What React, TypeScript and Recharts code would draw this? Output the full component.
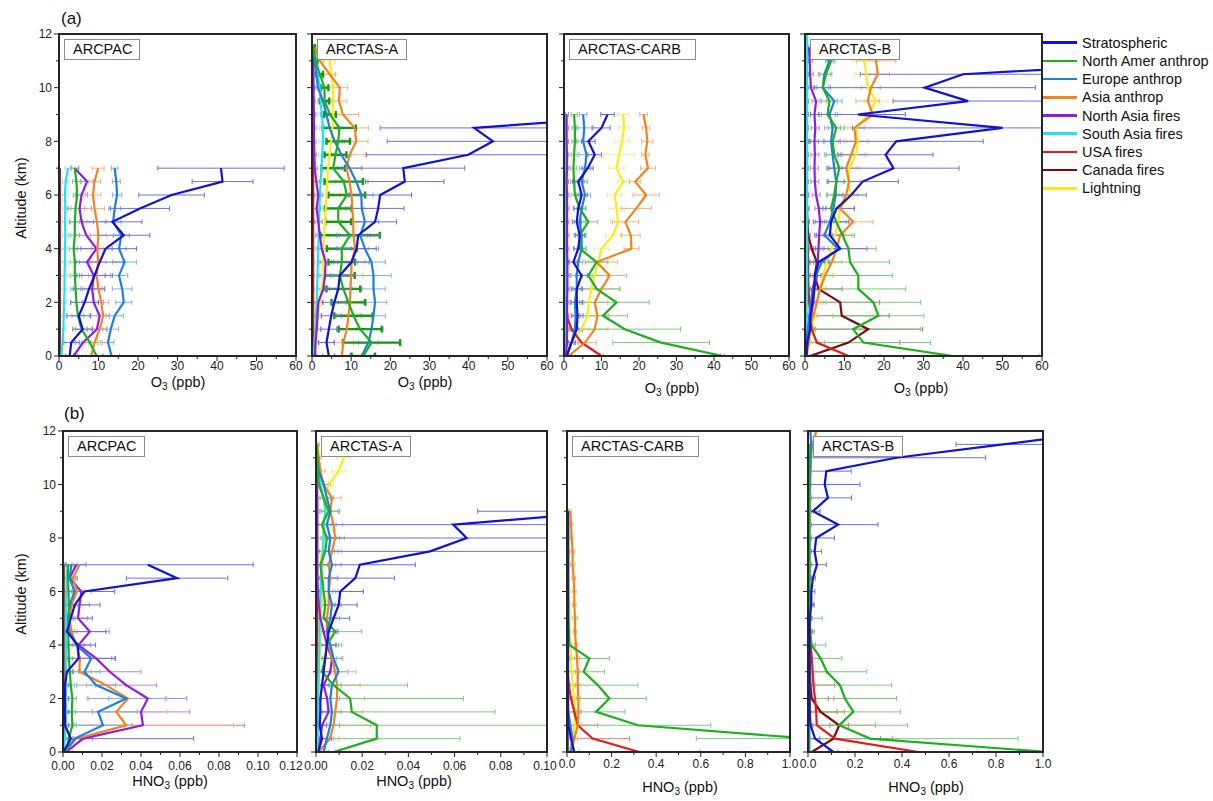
import React from 'react';
import { ScatterChart, Scatter, XAxis, YAxis, ErrorBar } from 'recharts';

const FONT = '"Liberation Sans", Arial, Helvetica, sans-serif';

type Vals = (number | null)[];
type Group = Record<string, Vals>;

// altitude levels (km) of each campaign
const altArcpac = [0, 0.5, 1, 1.5, 2, 2.5, 3, 3.5, 4, 4.5, 5, 5.5, 6, 6.5, 7];
const altArctasA = [0, 0.5, 1, 1.5, 2, 2.5, 3, 3.5, 4, 4.5, 5, 5.5, 6, 6.5, 7, 7.5, 8, 8.5, 9, 9.5, 10, 10.5, 11, 11.5];
const altCarb = [0, 0.5, 1, 1.5, 2, 2.5, 3, 3.5, 4, 4.5, 5, 5.5, 6, 6.5, 7, 7.5, 8, 8.5, 9];
const altArctasB = [0, 0.5, 1, 1.5, 2, 2.5, 3, 3.5, 4, 4.5, 5, 5.5, 6, 6.5, 7, 7.5, 8, 8.5, 9, 9.5, 10, 10.5, 11, 11.5, 12];

// tick values
const altTicks = [0, 1, 2, 3, 4, 5, 6, 7, 8, 9, 10, 11, 12];
const o3Ticks = [0, 5, 10, 15, 20, 25, 30, 35, 40, 45, 50, 55, 60];
const hno3TicksArcpac = [0, 0.01, 0.02, 0.03, 0.04, 0.05, 0.06, 0.07, 0.08, 0.09, 0.1, 0.11, 0.12];
const hno3TicksArctasA = [0, 0.01, 0.02, 0.03, 0.04, 0.05, 0.06, 0.07, 0.08, 0.09, 0.1];
const hno3TicksWide = [0, 0.1, 0.2, 0.3, 0.4, 0.5, 0.6, 0.7, 0.8, 0.9, 1.0];

// ---- O3 (ppb) ----
const o3Arcpac: Group = {
  strat: [2.7, 3.1, 6.0, 5.0, 6.5, 7.6, 9.0, 10.3, 11.8, 16.4, 13.5, 20.5, 28.5, 41.4, 41.0],
  naAnth: [9.5, 7.8, 5.7, 4.8, 4.4, 4.2, 4.0, 4.0, 3.7, 4.0, 4.0, 4.2, 4.6, 4.4, 4.0],
  euAnth: [13.3, 12.4, 13.1, 14.1, 16.4, 16.0, 15.2, 16.6, 15.2, 15.8, 13.7, 14.1, 14.7, 14.5, 14.1],
  asAnth: [8.2, 9.0, 10.3, 11.2, 10.7, 10.0, 9.5, 9.9, 9.7, 10.0, 9.6, 9.0, 8.6, 9.0, 9.9],
  naFire: [3.7, 6.1, 9.6, 10.3, 8.8, 8.4, 8.8, 7.1, 9.5, 6.9, 5.7, 5.2, 5.7, 7.1, 4.0],
  saFire: [0.6, 0.9, 1.1, 1.2, 1.3, 1.4, 1.4, 1.5, 1.5, 1.6, 1.5, 1.6, 1.5, 1.7, 2.3],
  usFire: [0.2, 0.2, 0.1, 0.1, 0.1, 0.1, 0.1, 0.1, 0.1, 0.1, 0.1, 0.1, 0.1, 0.1, 0.1],
  caFire: [0.2, 0.2, 0.2, 0.2, 0.2, 0.2, 0.2, 0.2, 0.2, 0.2, 0.2, 0.2, 0.2, 0.2, 0.2],
};
const o3ArcpacErr: Group = {
  strat: [1.0, 2.0, 2.5, 3.0, 3.5, 4.0, 4.5, 6.0, 7.8, 6.6, 7.5, 7.5, 8.3, 7.7, 16.0],
  naAnth: [1.5, 2.0, 1.5, 1.5, 1.5, 1.2, 1.2, 1.2, 1.0, 1.2, 1.2, 1.2, 1.0, 1.0, 1.0],
  euAnth: [2.0, 1.5, 2.0, 2.2, 2.0, 2.5, 2.2, 3.0, 1.8, 2.0, 2.0, 1.5, 1.2, 1.0, 0.8],
  asAnth: [1.5, 1.5, 2.0, 1.5, 1.8, 1.5, 2.0, 2.0, 1.5, 2.0, 2.5, 2.5, 2.0, 1.5, 1.5],
  naFire: [1.0, 2.0, 2.5, 2.5, 2.5, 2.5, 3.0, 3.0, 4.0, 3.0, 3.0, 3.0, 1.5, 1.5, 1.0],
  saFire: [0.5, 0.6, 0.6, 0.7, 0.7, 0.8, 0.8, 0.8, 0.8, 0.8, 0.8, 0.8, 0.8, 0.8, 0.8],
};

const o3ArctasA: Group = {
  strat: [4.3, 3.7, 4.3, 4.9, 5.7, 6.7, 7.1, 10.1, 11.4, 11.8, 16.1, 16.9, 17.4, 23.7, 23.3, 39.9, 46.2, 41.4, 88.0],
  naAnth: [13.1, 15.2, 12.3, 10.6, 9.3, 8.0, 7.1, 7.6, 7.6, 9.7, 6.7, 6.7, 8.9, 8.1, 5.4, 6.0, 6.7, 7.0, 4.6, 3.2, 3.2, 2.0, 0.9, 0.4],
  euAnth: [12.7, 14.4, 15.2, 15.7, 16.1, 15.7, 15.7, 15.2, 13.5, 12.3, 13.5, 12.7, 12.6, 11.3, 9.6, 7.5, 5.8, 4.5, 3.7, 2.8, 1.5, 1.1, 0.7, 0.3],
  asAnth: [7.6, 8.0, 8.9, 9.3, 9.7, 9.8, 10.0, 10.1, 11.0, 10.6, 10.5, 10.3, 10.1, 9.6, 8.8, 9.6, 11.3, 10.9, 7.9, 6.9, 7.1, 4.5, 2.0, 0.7],
  naFire: [0.8, 0.9, 1.2, 1.4, 1.6, 2.9, 3.3, 3.5, 2.5, 2.0, 1.6, 1.2, 1.6, 1.1, 0.7, 0.6, 0.5, 0.5, 0.5, 0.4, 0.4, 0.3, 0.3, 0.3],
  saFire: [0.3, 0.6, 0.9, 1.0, 1.2, 1.3, 1.4, 1.5, 1.6, 1.7, 1.8, 1.9, 2.0, 2.2, 2.4, 2.6, 2.8, 2.8, 2.5, 2.2, 2.0, 1.5, 1.0, 0.5],
  usFire: [0.3, 0.3, 0.3, 0.3, 0.3, 0.3, 0.3, 0.3, 0.3, 0.3, 0.3, 0.3, 0.3, 0.3, 0.3, 0.3, 0.3, 0.3, 0.3, 0.3, 0.3, 0.3, 0.3, 0.3],
  light: [0.6, 0.9, 1.2, 1.6, 2.0, 2.4, 2.9, 2.9, 2.9, 3.1, 3.3, 3.5, 3.7, 3.9, 4.1, 4.5, 4.9, 5.2, 5.4, 5.4, 5.4, 4.9, 4.5, 4.1],
};
const o3ArctasAErr: Group = {
  strat: [1.5, 2.0, 2.0, 2.5, 3.0, 3.5, 4.0, 4.5, 5.0, 5.4, 5.5, 6.6, 8.0, 10.0, 15.7, 26.0, 27.0, 24.0, 20.0],
  naAnth: [3.0, 7.3, 5.5, 4.9, 4.3, 4.3, 3.8, 3.4, 3.8, 7.6, 3.3, 3.4, 4.7, 4.9, 3.0, 2.8, 3.0, 4.2, 1.5, 1.2, 1.0, 0.8, 0.5, 0.3],
  euAnth: [3.0, 2.5, 3.0, 3.0, 3.0, 3.0, 4.5, 3.5, 3.5, 2.5, 3.5, 4.0, 3.0, 3.0, 3.0, 2.5, 2.0, 2.0, 1.5, 1.0, 1.0, 0.8, 0.5, 0.3],
  asAnth: [2.0, 2.5, 2.5, 3.0, 3.0, 3.0, 3.0, 3.5, 3.5, 3.5, 3.0, 3.0, 3.0, 3.5, 4.0, 4.0, 3.0, 3.5, 4.0, 2.0, 2.0, 1.5, 1.0, 0.5],
  naFire: [0.5, 0.8, 1.0, 1.0, 1.2, 1.5, 1.5, 1.5, 1.2, 1.0, 1.0, 1.0, 1.0, 0.8, 0.6, 0.5, 0.5, 0.5, 0.5, 0.4, 0.4, 0.3, 0.3, 0.3],
  saFire: [0.3, 0.5, 0.6, 0.6, 0.7, 0.7, 0.8, 0.8, 0.8, 0.8, 0.9, 0.9, 1.0, 1.0, 1.0, 1.0, 1.0, 1.0, 1.0, 0.8, 0.8, 0.6, 0.5, 0.3],
  light: [0.5, 0.6, 0.8, 1.0, 1.0, 1.2, 1.2, 1.2, 1.2, 1.5, 1.5, 1.5, 1.5, 1.5, 1.5, 1.5, 1.5, 1.5, 1.5, 1.5, 1.5, 1.5, 1.5, 1.0],
};

const o3Carb: Group = {
  strat: [0.7, 2.0, 3.4, 3.6, 3.4, 3.4, 4.7, 2.5, 3.8, 4.2, 3.4, 3.8, 4.7, 3.8, 6.3, 8.2, 6.5, 10.0, 11.6],
  naAnth: [42.3, 25.9, 16.2, 10.4, 14.0, 8.7, 6.5, 8.7, 4.2, 4.2, 6.5, 4.2, 2.9, 2.7, 2.5, 2.7, 2.9, 2.9, 2.7],
  euAnth: [0.7, 2.0, 2.9, 3.1, 2.9, 3.4, 3.4, 3.8, 4.7, 4.7, 4.2, 4.7, 5.6, 4.7, 5.6, 6.0, 5.1, 5.4, 5.1],
  asAnth: [1.2, 5.6, 8.2, 8.9, 8.2, 10.0, 12.2, 8.7, 18.0, 17.8, 16.4, 19.3, 21.9, 19.0, 22.4, 21.7, 22.2, 21.9, 21.2],
  naFire: [0.5, 0.8, 0.8, 0.8, 0.8, 0.9, 0.9, 0.9, 0.8, 0.8, 0.8, 0.8, 0.8, 0.7, 0.8, 0.8, 0.7, 0.7, 0.7],
  saFire: [0.3, 0.4, 0.5, 0.5, 0.5, 0.5, 0.5, 0.5, 0.5, 0.5, 0.5, 0.5, 0.5, 0.5, 0.5, 0.5, 0.5, 0.5, 0.5],
  usFire: [10.0, 4.7, 2.0, 0.7, 0.3, 0.2, 0.2, 0.2, 0.2, 0.2, 0.2, 0.2, 0.2, 0.2, 0.2, 0.2, 0.2, 0.2, 0.2],
  caFire: [0.1, 0.1, 0.1, 0.1, 0.1, 0.1, 0.1, 0.1, 0.1, 0.1, 0.1, 0.1, 0.1, 0.1, 0.1, 0.1, 0.1, 0.1, 0.1],
  light: [0.7, 2.0, 4.7, 6.3, 6.6, 7.3, 8.2, 9.1, 10.0, 13.1, 14.4, 14.0, 13.5, 15.8, 14.0, 14.7, 15.5, 16.0, 15.8],
};
const o3CarbErr: Group = {
  strat: [0.5, 1.0, 1.5, 1.5, 1.5, 1.5, 1.5, 1.2, 1.2, 1.2, 1.2, 1.2, 1.5, 1.5, 1.5, 1.8, 1.8, 2.3, 1.8],
  naAnth: [0.5, 12.9, 14.9, 6.5, 8.7, 6.0, 5.0, 3.0, 1.5, 1.5, 2.5, 1.5, 1.0, 1.0, 0.8, 0.8, 0.8, 0.8, 0.8],
  euAnth: [0.5, 1.0, 1.0, 1.2, 1.2, 1.2, 1.5, 1.2, 1.2, 1.2, 1.5, 1.2, 1.5, 1.5, 1.5, 2.0, 1.8, 2.0, 1.0],
  asAnth: [1.0, 3.0, 3.5, 3.0, 3.5, 5.0, 4.5, 5.5, 2.0, 2.5, 3.5, 4.0, 3.5, 1.5, 2.0, 1.0, 1.5, 1.0, 1.0],
  naFire: [0.3, 0.5, 0.5, 0.5, 0.5, 0.5, 0.5, 0.5, 0.5, 0.5, 0.5, 0.5, 0.5, 0.5, 0.5, 0.5, 0.5, 0.5, 0.5],
  usFire: [0.5, 1.0, 1.0, 0.5, 0.3, 0.2, 0.2, 0.2, 0.2, 0.2, 0.2, 0.2, 0.2, 0.2, 0.2, 0.2, 0.2, 0.2, 0.2],
  light: [0.5, 1.5, 2.0, 2.0, 2.0, 2.5, 2.5, 2.5, 2.0, 2.0, 2.0, 2.0, 2.0, 1.5, 2.0, 4.0, 2.0, 1.5, 1.5],
};

const o3ArctasB: Group = {
  strat: [0.4, 0.5, 1.3, 1.4, 1.9, 2.3, 2.5, 3.4, 8.9, 6.3, 6.6, 8.0, 11.7, 14.6, 22.4, 20.4, 23.1, 50.0, 13.4, 41.3, 30.3, 40.0, 100.0],
  naAnth: [37.4, 14.8, 12.2, 18.6, 17.3, 13.5, 13.5, 11.4, 11.0, 9.5, 7.9, 6.6, 7.4, 7.9, 8.7, 7.4, 7.0, 7.9, 5.7, 6.2, 4.5, 5.3, 6.6, 4.0],
  euAnth: [0.3, 0.3, 0.7, 1.1, 1.5, 1.9, 2.8, 4.2, 8.4, 4.9, 6.3, 7.2, 7.7, 7.9, 7.4, 7.0, 6.6, 7.0, 6.2, 7.4, 4.5, 4.9, 6.2, 2.4],
  asAnth: [0.3, 0.5, 0.8, 2.1, 3.0, 3.8, 5.1, 6.8, 8.0, 8.9, 12.2, 8.9, 10.4, 11.2, 10.4, 11.7, 12.9, 12.5, 17.2, 15.9, 16.7, 18.4, 18.0, 17.8],
  naFire: [0.3, 0.8, 1.2, 1.5, 2.1, 2.4, 3.0, 3.2, 3.4, 3.6, 3.8, 3.5, 2.8, 2.5, 2.4, 2.5, 2.4, 2.6, 2.4, 2.8, 1.5, 1.3, 1.2, 1.0],
  saFire: [0.2, 0.3, 0.3, 0.4, 0.4, 0.5, 0.5, 0.5, 0.5, 0.5, 0.5, 0.5, 0.5, 0.5, 0.5, 0.5, 0.5, 0.5, 0.5, 0.5, 0.5, 0.5, 0.5, 0.5, 0.5],
  usFire: [11.0, 3.0, 1.7, 1.3, 1.1, 0.9, 0.8, 0.8, 0.7, 0.6, 0.5, 0.5, 0.5, 0.4, 0.4, 0.4, 0.4, 0.4, 0.4, 0.4, 0.3, 0.3, 0.3, 0.3],
  caFire: [1.3, 11.0, 16.0, 9.3, 8.9, 3.4, 2.5, 3.0, 1.7, 0.8, 0.6, 0.5, 0.4, 0.4, 0.4, 0.3, 0.3, 0.3, 0.3, 0.3, 0.3, 0.3, 0.3, 0.3],
  light: [0.6, 1.1, 1.7, 2.3, 3.0, 3.8, 4.6, 5.5, 6.8, 7.6, 8.4, 8.9, 11.7, 10.8, 11.2, 12.9, 13.4, 12.9, 15.9, 18.0, 15.9, 15.5, 15.0, 9.6],
};
const o3ArctasBErr: Group = {
  strat: [0.3, 0.5, 0.5, 0.8, 1.0, 1.5, 2.0, 2.5, 6.8, 3.5, 4.5, 4.5, 3.8, 9.0, 16.6, 12.0, 22.0, 38.0, 12.0, 19.0, 28.0, 26.0, 30.0],
  naAnth: [22.0, 17.0, 17.0, 11.5, 12.0, 12.0, 8.6, 10.0, 7.0, 3.0, 2.5, 2.0, 2.0, 2.0, 2.5, 2.0, 2.0, 2.0, 2.0, 2.0, 2.0, 1.5, 1.0, 1.0],
  euAnth: [0.3, 0.3, 0.5, 0.8, 1.0, 1.2, 1.5, 2.0, 2.5, 2.0, 2.0, 2.0, 2.0, 2.0, 2.0, 2.0, 2.0, 2.0, 2.0, 2.0, 1.5, 1.5, 1.0, 1.0],
  asAnth: [0.3, 0.5, 1.0, 1.0, 1.5, 1.5, 2.0, 2.5, 3.0, 3.0, 5.0, 3.5, 3.0, 3.0, 3.0, 3.5, 3.0, 2.5, 3.0, 3.0, 2.5, 3.0, 5.0, 5.0],
  naFire: [0.3, 0.5, 0.8, 0.8, 1.0, 1.0, 1.0, 1.0, 1.2, 1.2, 1.2, 1.0, 1.0, 1.0, 1.0, 1.0, 1.0, 1.0, 1.0, 1.0, 0.8, 0.8, 0.8, 0.6],
  usFire: [8.0, 2.0, 1.0, 0.8, 0.5, 0.5, 0.5, 0.5, 0.5, 0.5, 0.5, 0.5, 0.5, 0.5, 0.5, 0.5, 0.5, 0.5, 0.5, 0.5, 0.5, 0.5, 0.5, 0.5],
  caFire: [1.0, 13.0, 13.8, 12.0, 10.0, 6.0, 2.0, 2.0, 1.0, 0.5, 0.5, 0.5, 0.5, 0.5, 0.5, 0.5, 0.5, 0.5, 0.5, 0.5, 0.5, 0.5, 0.5, 0.5],
  light: [0.5, 0.5, 0.8, 1.0, 1.0, 1.5, 2.0, 2.0, 2.0, 2.5, 2.5, 2.5, 3.0, 3.0, 3.0, 3.0, 3.0, 2.0, 7.0, 3.0, 3.0, 3.0, 3.0, 2.0],
};

// ---- HNO3 (ppb) ----
const hno3Arcpac: Group = {
  strat: [0.0002, 0.004, 0.001, 0.001, 0.001, 0.001, 0.002, 0.008, 0.0077, 0.002, 0.004, 0.006, 0.011, 0.0585, 0.0435],
  naAnth: [0.002, 0.003, 0.0048, 0.0045, 0.0048, 0.004, 0.0035, 0.003, 0.0028, 0.0028, 0.003, 0.003, 0.0028, 0.0026, 0.0026],
  euAnth: [0.001, 0.006, 0.0205, 0.018, 0.0324, 0.017, 0.011, 0.0145, 0.0068, 0.0031, 0.0026, 0.0034, 0.006, 0.0034, 0.0043],
  asAnth: [0.001, 0.0068, 0.0324, 0.0273, 0.0333, 0.022, 0.0085, 0.0085, 0.0068, 0.0043, 0.0034, 0.0043, 0.0072, 0.005, 0.0085],
  naFire: [0.0017, 0.0102, 0.041, 0.04, 0.0435, 0.0324, 0.024, 0.017, 0.008, 0.0137, 0.0077, 0.0085, 0.0094, 0.0034, 0.0068],
  saFire: [0.0005, 0.001, 0.0015, 0.0015, 0.0015, 0.0015, 0.0015, 0.0015, 0.0015, 0.0015, 0.0015, 0.0015, 0.0017, 0.0018, 0.002],
  usFire: [0.0003, 0.0003, 0.0003, 0.0003, 0.0003, 0.0003, 0.0003, 0.0003, 0.0003, 0.0003, 0.0003, 0.0003, 0.0003, 0.0003, 0.0003],
  caFire: [0.0002, 0.0002, 0.0002, 0.0002, 0.0002, 0.0002, 0.0002, 0.0002, 0.0002, 0.0002, 0.0002, 0.0002, 0.0002, 0.0002, 0.0002],
};
const hno3ArcpacErr: Group = {
  strat: [null, 0.063, 0.002, 0.002, 0.002, 0.002, 0.003, 0.019, 0.009, 0.02, 0.011, 0.013, 0.0155, 0.026, 0.054],
  naAnth: [0.003, 0.002, 0.002, 0.002, 0.002, 0.002, 0.002, 0.002, 0.002, 0.002, 0.002, 0.002, 0.002, 0.002, 0.002],
  euAnth: [0.001, 0.004, 0.015, 0.02, 0.02, 0.01, 0.008, 0.012, 0.004, 0.003, 0.003, 0.003, 0.003, 0.003, 0.003],
  asAnth: [0.001, 0.004, 0.055, 0.026, 0.02, 0.01, 0.006, 0.005, 0.004, 0.003, 0.003, 0.003, 0.003, 0.002, 0.003],
  naFire: [0.001, 0.005, 0.052, 0.025, 0.02, 0.0156, 0.016, 0.008, 0.006, 0.01, 0.005, 0.005, 0.005, 0.004, 0.005],
};

const hno3ArctasA: Group = {
  strat: [0.001, 0.0026, 0.0016, 0.0019, 0.0019, 0.0026, 0.0033, 0.004, 0.0047, 0.0055, 0.0076, 0.0098, 0.0105, 0.017, 0.019, 0.0494, 0.0652, 0.0594, 0.13],
  naAnth: [0.0076, 0.0263, 0.0263, 0.0155, 0.0148, 0.0076, 0.0026, 0.004, 0.0047, 0.0083, 0.0033, 0.004, 0.0033, 0.0026, 0.0019, 0.004, 0.0047, 0.0026, 0.0055, 0.0033, 0.0012, 0.0008, 0.0005, 0.0003],
  euAnth: [0.0033, 0.0047, 0.0062, 0.0069, 0.0062, 0.0069, 0.0098, 0.0076, 0.0062, 0.0047, 0.0062, 0.0069, 0.0055, 0.0055, 0.0069, 0.0055, 0.0062, 0.0047, 0.0062, 0.0047, 0.0033, 0.0012, 0.0005],
  asAnth: [0.0012, 0.006, 0.0076, 0.0083, 0.0091, 0.0091, 0.0083, 0.0069, 0.0055, 0.0047, 0.0047, 0.0055, 0.0055, 0.0062, 0.0055, 0.0069, 0.0083, 0.0076, 0.0062, 0.0069, 0.0033, 0.0019, 0.0012, 0.0005],
  naFire: [0.0012, 0.0019, 0.0026, 0.0055, 0.0048, 0.0033, 0.0062, 0.0069, 0.0047, 0.0033, 0.0019, 0.0012, 0.0008, 0.0006, 0.0005, 0.0005, 0.0005, 0.0005, 0.0005, 0.0005, 0.0004, 0.0003, 0.0003, 0.0003],
  saFire: [0.0006, 0.0008, 0.001, 0.001, 0.001, 0.001, 0.0012, 0.0012, 0.0015, 0.0015, 0.0015, 0.0018, 0.002, 0.0022, 0.0025, 0.003, 0.0033, 0.0033, 0.004, 0.0033, 0.0019, 0.0008, 0.0005, 0.0003],
  usFire: [0.0005, 0.0005, 0.0005, 0.0005, 0.0005, 0.0005, 0.0005, 0.0005, 0.0005, 0.0005, 0.0005, 0.0005, 0.0005, 0.0005, 0.0005, 0.0005, 0.0005, 0.0005, 0.0005, 0.0005, 0.0005, 0.0005, 0.0005, 0.0005],
  light: [0.0004, 0.0005, 0.0006, 0.0008, 0.001, 0.0012, 0.0014, 0.0016, 0.0018, 0.002, 0.0022, 0.0025, 0.0028, 0.003, 0.0019, 0.0026, 0.0033, 0.0026, 0.0047, 0.004, 0.0055, 0.0098, 0.012],
};
const hno3ArctasAErr: Group = {
  strat: [0.001, 0.004, 0.003, 0.003, 0.003, 0.003, 0.003, 0.003, 0.004, 0.004, 0.007, 0.008, 0.01, 0.017, 0.024, 0.06, 0.06, 0.06, 0.06],
  naAnth: [0.007, 0.036, 0.08, 0.062, 0.049, 0.032, 0.006, 0.005, 0.005, 0.0115, 0.004, 0.004, 0.004, 0.003, 0.003, 0.004, 0.004, 0.004, 0.004, 0.003, 0.002, 0.001, 0.001, 0.0005],
  euAnth: [0.002, 0.003, 0.004, 0.004, 0.004, 0.004, 0.004, 0.004, 0.005, 0.004, 0.004, 0.004, 0.004, 0.004, 0.004, 0.004, 0.004, 0.004, 0.004, 0.003, 0.002, 0.001, 0.0005],
  asAnth: [0.001, 0.004, 0.016, 0.012, 0.012, 0.01, 0.009, 0.004, 0.003, 0.004, 0.004, 0.003, 0.003, 0.003, 0.003, 0.004, 0.004, 0.004, 0.004, 0.004, 0.003, 0.002, 0.001, 0.001],
  light: [0.0003, 0.0003, 0.0004, 0.0005, 0.0006, 0.0007, 0.0008, 0.0008, 0.0009, 0.001, 0.001, 0.001, 0.0012, 0.0012, 0.001, 0.0012, 0.0015, 0.0012, 0.002, 0.002, 0.002, 0.003, 0.003],
};

const hno3Carb: Group = {
  strat: [0.033, 0.018, 0.006, 0.004, 0.004, 0.004, 0.004, 0.004, 0.004, 0.004, 0.004, 0.004, 0.004, 0.004, 0.004, 0.004, 0.004, 0.004, 0.004],
  naAnth: [1.5, 1.08, 0.318, 0.13, 0.19, 0.138, 0.075, 0.1, 0.01, 0.008, 0.006, 0.006, 0.005, 0.005, 0.005, 0.005, 0.005, 0.005, 0.005],
  euAnth: [0.018, 0.025, 0.015, 0.006, 0.005, 0.005, 0.005, 0.005, 0.005, 0.005, 0.005, 0.005, 0.005, 0.005, 0.005, 0.005, 0.005, 0.005, 0.005],
  asAnth: [0.018, 0.033, 0.048, 0.051, 0.051, 0.048, 0.048, 0.045, 0.04, 0.036, 0.036, 0.033, 0.033, 0.03, 0.025, 0.025, 0.021, 0.018, 0.015],
  naFire: [0.003, 0.003, 0.003, 0.003, 0.003, 0.003, 0.003, 0.003, 0.003, 0.003, 0.003, 0.003, 0.003, 0.003, 0.003, 0.003, 0.003, 0.003, 0.003],
  saFire: [0.003, 0.003, 0.003, 0.003, 0.003, 0.003, 0.003, 0.003, 0.003, 0.003, 0.003, 0.003, 0.003, 0.003, 0.003, 0.003, 0.003, 0.003, 0.003],
  usFire: [0.325, 0.115, 0.048, 0.033, 0.018, 0.008, 0.003, 0.002, 0.002, 0.002, 0.002, 0.002, 0.002, 0.002, 0.002, 0.002, 0.002, 0.002, 0.002],
  caFire: [0.001, 0.001, 0.001, 0.001, 0.001, 0.001, 0.001, 0.001, 0.001, 0.001, 0.001, 0.001, 0.001, 0.001, 0.001, 0.001, 0.001, 0.001, 0.001],
  light: [0.01, 0.025, 0.036, 0.033, 0.033, 0.025, 0.021, 0.018, 0.015, 0.012, 0.012, 0.01, 0.01, 0.009, 0.008, 0.008, 0.007, 0.006, 0.006],
};
const hno3CarbErr: Group = {
  naAnth: [0.5, 0.5, 0.327, 0.13, 0.165, 0.18, 0.093, 0.09, 0.01, 0.005, 0.004, 0.004, 0.004, 0.004, 0.004, 0.004, 0.004, 0.004, 0.004],
  usFire: [0.27, 0.165, 0.09, 0.03, 0.01, 0.005, 0.002, 0.002, 0.002, 0.002, 0.002, 0.002, 0.002, 0.002, 0.002, 0.002, 0.002, 0.002, 0.002],
  asAnth: [0.01, 0.015, 0.015, 0.01, 0.01, 0.01, 0.01, 0.01, 0.008, 0.008, 0.01, 0.008, 0.008, 0.008, 0.01, 0.008, 0.006, 0.008, 0.004],
  light: [0.005, 0.01, 0.01, 0.01, 0.01, 0.008, 0.008, 0.006, 0.006, 0.005, 0.005, 0.005, 0.005, 0.004, 0.004, 0.004, 0.004, 0.003, 0.003],
};

const hno3ArctasB: Group = {
  strat: [0.108, 0.03, 0.011, 0.007, 0.007, 0.007, 0.007, 0.007, 0.007, 0.007, 0.007, 0.014, 0.014, 0.021, 0.038, 0.028, 0.035, 0.128, 0.021, 0.085, 0.071, 0.078, 0.376, 0.83, 1.29],
  naAnth: [1.02, 0.264, 0.133, 0.193, 0.157, 0.136, 0.08, 0.054, 0.016, 0.007, 0.01, 0.008, 0.006, 0.006, 0.005, 0.005, 0.005, 0.005, 0.005, 0.005, 0.005, 0.005, 0.005, 0.005],
  euAnth: [0.003, 0.003, 0.004, 0.004, 0.004, 0.005, 0.005, 0.005, 0.005, 0.005, 0.005, 0.005, 0.005, 0.005, 0.005, 0.005, 0.005, 0.005, 0.005, 0.006, 0.008, 0.01, 0.012, 0.014, 0.01],
  asAnth: [0.003, 0.004, 0.005, 0.005, 0.005, 0.005, 0.005, 0.005, 0.005, 0.005, 0.005, 0.005, 0.005, 0.005, 0.005, 0.005, 0.005, 0.005, 0.005, 0.005, 0.006, 0.006, 0.007, 0.02, 0.035],
  naFire: [0.004, 0.004, 0.004, 0.004, 0.004, 0.004, 0.004, 0.004, 0.004, 0.004, 0.004, 0.004, 0.004, 0.004, 0.004, 0.004, 0.004, 0.004, 0.004, 0.004, 0.004, 0.004, 0.004, 0.004],
  saFire: [0.006, 0.006, 0.006, 0.006, 0.006, 0.006, 0.006, 0.006, 0.006, 0.006, 0.006, 0.006, 0.006, 0.006, 0.006, 0.006, 0.006, 0.006, 0.006, 0.006, 0.006, 0.006, 0.006, 0.008],
  usFire: [0.47, 0.115, 0.037, 0.035, 0.03, 0.023, 0.02, 0.016, 0.012, 0.008, 0.005, 0.004, 0.003, 0.003, 0.003, 0.003, 0.003, 0.003, 0.003, 0.003, 0.003, 0.003, 0.003, 0.003],
  caFire: [0.016, 0.108, 0.133, 0.054, 0.016, 0.01, 0.008, 0.006, 0.005, 0.004, 0.004, 0.004, 0.004, 0.004, 0.004, 0.004, 0.004, 0.004, 0.004, 0.004, 0.004, 0.004, 0.004, 0.004],
  light: [0.005, 0.006, 0.007, 0.008, 0.008, 0.009, 0.01, 0.01, 0.01, 0.009, 0.008, 0.007, 0.006, 0.005, 0.005, 0.005, 0.005, 0.006, 0.007, 0.008, 0.01, 0.012, 0.015, 0.021, 0.035],
};
const hno3ArctasBErr: Group = {
  strat: [0.02, 0.02, 0.01, 0.005, 0.005, 0.005, 0.005, 0.005, 0.005, 0.01, 0.01, 0.01, 0.015, 0.01, 0.04, 0.03, 0.078, 0.17, 0.03, 0.1, 0.15, 0.106, 0.38, 0.2, 0.2],
  naAnth: [0.3, 0.63, 0.29, 0.2, 0.22, 0.22, 0.17, 0.09, 0.06, 0.02, 0.05, 0.02, 0.01, 0.01, 0.01, 0.01, 0.01, 0.01, 0.01, 0.01, 0.01, 0.01, 0.01, 0.01],
  usFire: [0.3, 0.245, 0.25, 0.12, 0.08, 0.09, 0.06, 0.03, 0.02, 0.01, 0.01, 0.01, 0.01, 0.01, 0.01, 0.01, 0.01, 0.01, 0.01, 0.01, 0.01, 0.01, 0.01, 0.01],
  caFire: [0.01, 0.2, 0.04, 0.07, 0.07, 0.02, 0.01, 0.01, 0.01, 0.01, 0.01, 0.01, 0.01, 0.01, 0.01, 0.01, 0.01, 0.01, 0.01, 0.01, 0.01, 0.01, 0.01, 0.01],
};

const series = [
  { key: 'strat', name: 'Stratospheric', color: '#1212d2', bar: '#6f6fe4' },
  { key: 'naAnth', name: 'North Amer anthrop', color: '#1eae1e', bar: '#7ccb7c' },
  { key: 'euAnth', name: 'Europe anthrop', color: '#1f7fe0', bar: '#7fb1ea' },
  { key: 'asAnth', name: 'Asia anthrop', color: '#f2831f', bar: '#f4b27c' },
  { key: 'naFire', name: 'North Asia fires', color: '#8a1fe2', bar: '#b683ec' },
  { key: 'saFire', name: 'South Asia fires', color: '#22e2f2', bar: '#8eeff7' },
  { key: 'usFire', name: 'USA fires', color: '#e41c1c', bar: '#ed8080' },
  { key: 'caFire', name: 'Canada fires', color: '#7a0c0c', bar: '#ab6a6a' },
  { key: 'light', name: 'Lightning', color: '#f6ee14', bar: '#f2ec8a' },
];
const drawOrder = ['light', 'caFire', 'usFire', 'saFire', 'naFire', 'asAnth', 'euAnth', 'naAnth', 'strat'];

type Panel = {
  title: string; alt: number[]; vals: Group; errs: Group; ticks: number[]; xMax: number;
  step: number; digits: number; x: number; y: number; w: number; h: number; boxW: number;
  showY: boolean; gas: string; tx: number; ty: number; gap: number; lastShift?: number; boldBar?: string;
};

const panels: Panel[] = [
  { title: 'ARCPAC', alt: altArcpac, vals: o3Arcpac, errs: o3ArcpacErr, ticks: o3Ticks, xMax: 60, step: 10, digits: 0, x: 59, y: 34, w: 237, h: 322, boxW: 76, showY: true, gas: 'O', tx: 178, ty: 383, gap: 5 },
  { title: 'ARCTAS-A', alt: altArctasA, vals: o3ArctasA, errs: o3ArctasAErr, ticks: o3Ticks, xMax: 60, step: 10, digits: 0, x: 312, y: 34, w: 235, h: 322, boxW: 90, showY: false, gas: 'O', tx: 425, ty: 383, gap: 5, boldBar: 'naAnth' },
  { title: 'ARCTAS-CARB', alt: altCarb, vals: o3Carb, errs: o3CarbErr, ticks: o3Ticks, xMax: 60, step: 10, digits: 0, x: 564, y: 34, w: 225, h: 322, boxW: 127, showY: false, gas: 'O', tx: 672, ty: 389, gap: 5 },
  { title: 'ARCTAS-B', alt: altArctasB, vals: o3ArctasB, errs: o3ArctasBErr, ticks: o3Ticks, xMax: 60, step: 10, digits: 0, x: 805, y: 34, w: 237, h: 322, boxW: 90, showY: false, gas: 'O', tx: 921, ty: 389, gap: 5 },
  { title: 'ARCPAC', alt: altArcpac, vals: hno3Arcpac, errs: hno3ArcpacErr, ticks: hno3TicksArcpac, xMax: 0.12, step: 0.02, digits: 2, x: 63, y: 431, w: 234, h: 321, boxW: 77, showY: true, gas: 'HNO', tx: 170, ty: 782, gap: 9, lastShift: -6 },
  { title: 'ARCTAS-A', alt: altArctasA, vals: hno3ArctasA, errs: hno3ArctasAErr, ticks: hno3TicksArctasA, xMax: 0.1, step: 0.02, digits: 2, x: 316, y: 431, w: 231, h: 321, boxW: 90, showY: false, gas: 'HNO', tx: 414, ty: 782, gap: 9, lastShift: -2 },
  { title: 'ARCTAS-CARB', alt: altCarb, vals: hno3Carb, errs: hno3CarbErr, ticks: hno3TicksWide, xMax: 1.0, step: 0.2, digits: 1, x: 567, y: 431, w: 223, h: 321, boxW: 127, showY: false, gas: 'HNO', tx: 680, ty: 788, gap: 7 },
  { title: 'ARCTAS-B', alt: altArctasB, vals: hno3ArctasB, errs: hno3ArctasBErr, ticks: hno3TicksWide, xMax: 1.0, step: 0.2, digits: 1, x: 808, y: 431, w: 235, h: 321, boxW: 90, showY: false, gas: 'HNO', tx: 926, ty: 788, gap: 7 },
];

const ML = 40, MT = 10, MR = 16, XH = 26;
const isMajor = (v: number, step: number) => Math.abs(v / step - Math.round(v / step)) < 1e-6;
const NoDot = () => <g />;

const xTick = (p: Panel) => (props: any) => {
  const { x, y, payload } = props;
  const major = isMajor(payload.value, p.step);
  const isLast = Math.abs(payload.value - p.xMax) < 1e-9;
  const lx = isLast && p.lastShift ? x + p.lastShift : x;
  return (
    <g>
      <line x1={x} x2={x} y1={y} y2={y + (major ? 5 : 3)} stroke="#222" />
      {major && (
        <text x={lx} y={y + p.gap} dy="0.71em" textAnchor="middle" fontSize={12} fill="#222" fontFamily={FONT}>
          {Number(payload.value).toFixed(p.digits)}
        </text>
      )}
    </g>
  );
};

const yTick = (showLabel: boolean) => (props: any) => {
  const { x, y, payload } = props;
  const major = payload.value % 2 === 0;
  return (
    <g>
      <line x1={x - (major ? 5 : 3)} x2={x} y1={y} y2={y} stroke="#222" />
      {showLabel && major && (
        <text x={x - 7} y={y} dy="0.35em" textAnchor="end" fontSize={12} fill="#222" fontFamily={FONT}>
          {payload.value}
        </text>
      )}
    </g>
  );
};

// axes only (ticks and labels), drawn outside the plot box
function AxesChart({ p }: { p: Panel }) {
  return (
    <ScatterChart width={ML + p.w + MR} height={MT + p.h + XH} margin={{ top: MT, right: MR, bottom: 0, left: 0 }}>
      <XAxis type="number" dataKey="x" domain={[0, p.xMax]} ticks={p.ticks} interval={0} allowDataOverflow
        height={XH} axisLine={false} tickLine={false} tickSize={0} tickMargin={0} tick={xTick(p)} />
      <YAxis type="number" dataKey="y" domain={[0, 12]} ticks={altTicks} interval={0} allowDataOverflow
        width={ML} axisLine={false} tickLine={false} tickSize={0} tickMargin={0} tick={yTick(p.showY)} />
      <Scatter data={[{ x: 0, y: 0 }]} shape={NoDot} isAnimationActive={false} />
    </ScatterChart>
  );
}

// profiles with error bars; the wrapper clips everything to the plot box
function SeriesChart({ p }: { p: Panel }) {
  return (
    <ScatterChart width={ML + p.w + MR} height={MT + p.h + XH} margin={{ top: MT, right: MR, bottom: 0, left: 0 }}>
      <XAxis type="number" dataKey="x" domain={[0, p.xMax]} allowDataOverflow height={XH} axisLine={false} tickLine={false} tick={false} />
      <YAxis type="number" dataKey="y" domain={[0, 12]} allowDataOverflow width={ML} axisLine={false} tickLine={false} tick={false} />
      {drawOrder.map((k) => {
        const s = series.find((e) => e.key === k)!;
        const vals = p.vals[k];
        if (!vals) return null;
        const errs = p.errs[k];
        const pts = p.alt
          .map((a, i) => ({ y: a, x: vals[i], err: errs ? errs[i] ?? undefined : undefined }))
          .filter((d) => d.x != null);
        const bold = p.boldBar === k;
        return (
          <Scatter key={k} name={s.name} data={pts} fill={s.color} shape={NoDot}
            line={{ stroke: s.color, strokeWidth: 2.2 }} isAnimationActive={false}>
            <ErrorBar dataKey="err" direction="x" width={bold ? 3.5 : 2.5}
              stroke={bold ? '#169616' : s.bar} strokeWidth={bold ? 2.4 : 1} />
          </Scatter>
        );
      })}
    </ScatterChart>
  );
}

export default function App() {
  return (
    <div style={{ position: 'absolute', left: 0, top: 0, width: 1213, height: 801, background: '#fff', fontFamily: FONT, color: '#111' }}>
      {panels.map((p, i) => (
        <React.Fragment key={i}>
          <div style={{ position: 'absolute', left: p.x - ML, top: p.y - MT }}>
            <AxesChart p={p} />
          </div>
          <div style={{ position: 'absolute', left: p.x, top: p.y, width: p.w, height: p.h, overflow: 'hidden' }}>
            <div style={{ position: 'absolute', left: -ML, top: -MT }}>
              <SeriesChart p={p} />
            </div>
          </div>
          <div style={{ position: 'absolute', left: p.x - 1, top: p.y - 1, width: p.w + 2, height: p.h + 2, border: '2px solid #262626', boxSizing: 'border-box', pointerEvents: 'none' }} />
          <div style={{ position: 'absolute', left: p.x + 5, top: p.y + 5, width: p.boxW, height: 21, boxSizing: 'border-box', border: '1px solid #8c8c8c', background: '#fff', fontSize: 14.5, lineHeight: '19px', paddingLeft: 8, whiteSpace: 'nowrap' }}>
            {p.title}
          </div>
          <div style={{ position: 'absolute', left: p.tx, top: p.ty, transform: 'translate(-50%, -50%)', fontSize: 14.5, whiteSpace: 'nowrap' }}>
            {p.gas}<sub style={{ fontSize: 10, verticalAlign: '-3px' }}>3</sub> (ppb)
          </div>
        </React.Fragment>
      ))}
      {[198, 594].map((cy, i) => (
        <div key={i} style={{ position: 'absolute', left: 21, top: cy, transform: 'translate(-50%, -50%) rotate(-90deg)', fontSize: 14.5, whiteSpace: 'nowrap' }}>
          Altitude (km)
        </div>
      ))}
      <div style={{ position: 'absolute', left: 61, top: 9, fontSize: 17 }}>(a)</div>
      <div style={{ position: 'absolute', left: 64, top: 404, fontSize: 17 }}>(b)</div>
      {series.map((s, i) => (
        <div key={s.key} style={{ position: 'absolute', left: 1043, top: 42.7 + i * 18.2 - 9, height: 18, display: 'flex', alignItems: 'center' }}>
          <div style={{ width: 34, height: 2.5, background: s.color }} />
          <span style={{ marginLeft: 5, fontSize: 14.5, whiteSpace: 'nowrap' }}>{s.name}</span>
        </div>
      ))}
    </div>
  );
}
